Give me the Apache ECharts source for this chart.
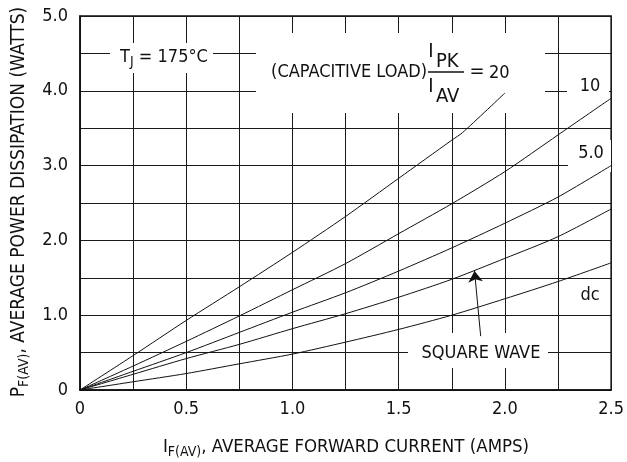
<!DOCTYPE html>
<html>
<head>
<meta charset="utf-8">
<script src="https://cdn.jsdelivr.net/npm/echarts@6/dist/echarts.min.js"></script>
<style>
  html, body { margin: 0; padding: 0; background: #fff; }
  #chart { width: 627px; height: 462px; }
</style>
</head>
<body>
<div id="chart"></div>
<script>
var FONT = '"Liberation Sans Narrow", "DejaVu Sans Condensed", "Liberation Sans", sans-serif';

// average forward current (A)
var current = [0, 0.25, 0.5, 0.75, 1.0, 1.25, 1.5, 1.75, 2.0, 2.25, 2.5];
var current20 = [0, 0.25, 0.5, 0.75, 1.0, 1.25, 1.5, 1.75, 1.8, 2.0];

// average power dissipation (W)
var ratio20 = [0, 0.46, 0.93, 1.38, 1.84, 2.32, 2.83, 3.34, 3.44, 3.97];
var ratio10 = [0, 0.32, 0.65, 0.99, 1.34, 1.69, 2.09, 2.49, 2.92, 3.41, 3.90];
var ratio5 = [0, 0.25, 0.50, 0.77, 1.04, 1.30, 1.59, 1.90, 2.23, 2.58, 3.00];
var squareWave = [0, 0.21, 0.42, 0.61, 0.82, 1.02, 1.24, 1.48, 1.76, 2.05, 2.42];
var dc = [0, 0.11, 0.22, 0.35, 0.48, 0.64, 0.81, 1.00, 1.22, 1.45, 1.70];

// arrow from the SQUARE WAVE label up to its curve
var arrowFrom = [1.886, 0.72];
var arrowTo = [1.857, 1.59];

var xTickLabels = ['0', '0.5', '1.0', '1.5', '2.0', '2.5'];
var yTickLabels = ['0', '1.0', '2.0', '3.0', '4.0', '5.0'];

function pairs( xs, ys ) {
  return xs.map( function( x, i ) { return [ x, ys[ i ] ]; } );
}

function curve( name, data, extra ) {
  var s = {
    name: name,
    type: 'line',
    data: data,
    smooth: 0.25,
    showSymbol: false,
    symbol: 'none',
    z: 5,
    lineStyle: { color: '#111', width: 1 }
  };
  if( extra ) { for( var k in extra ) s[ k ] = extra[ k ]; }
  return s;
}

function txt( text, x, y, size, align, rich ) {
  return {
    type: 'text', x: x, y: y, z: 10,
    style: {
      text: text, fill: '#111', fontFamily: FONT, fontSize: size || 18,
      textAlign: align || 'center', textVerticalAlign: 'middle',
      rich: rich || {}
    }
  };
}

function box( x, y, w, h ) {
  return { type: 'rect', z: 1, shape: { x: x, y: y, width: w, height: h }, style: { fill: '#fff' } };
}

var subRich = { s: { fontFamily: FONT, fontSize: 14, fill: '#111', padding: [ 10, 0, 0, 0 ] } };

var chart = echarts.init( document.getElementById( 'chart' ) );

var gridLine = { show: true, lineStyle: { color: '#1a1a1a', width: 1 } };

chart.setOption( {
  animation: false,
  grid: { left: 80, right: 14, top: 16, bottom: 72, show: true, borderColor: '#111', borderWidth: 1.5 },
  xAxis: {
    type: 'value', min: 0, max: 2.5, interval: 0.25,
    axisLine: { show: true, lineStyle: { color: '#111', width: 1.5 } },
    axisTick: { show: false },
    splitLine: gridLine,
    axisLabel: {
      margin: 10, color: '#111', fontFamily: FONT, fontSize: 18,
      formatter: function( v ) {
        var k = Math.round( v * 4 );
        return k % 2 === 0 ? xTickLabels[ k / 2 ] : '';
      }
    }
  },
  yAxis: {
    type: 'value', min: 0, max: 5, interval: 0.5,
    axisLine: { show: true, lineStyle: { color: '#111', width: 1.5 } },
    axisTick: { show: false },
    splitLine: gridLine,
    axisLabel: {
      margin: 12, color: '#111', fontFamily: FONT, fontSize: 18,
      formatter: function( v ) {
        var k = Math.round( v * 2 );
        return k % 2 === 0 ? yTickLabels[ k / 2 ] : '';
      }
    }
  },
  series: [
    curve( '20', pairs( current20, ratio20 ) ),
    curve( '10', pairs( current, ratio10 ) ),
    curve( '5.0', pairs( current, ratio5 ) ),
    curve( 'SQUARE WAVE', pairs( current, squareWave ), {
      markLine: {
        silent: true, z: 6,
        symbol: [ 'none', 'arrow' ], symbolSize: 11,
        label: { show: false },
        lineStyle: { color: '#111', width: 1, type: 'solid' },
        data: [ [ { coord: arrowFrom }, { coord: arrowTo } ] ]
      }
    } ),
    curve( 'dc', pairs( current, dc ) )
  ],
  graphic: [
    box( 110, 43, 103, 30 ),
    box( 256, 33, 289, 80 ),
    box( 567, 75, 42, 24 ),
    box( 568, 140, 43, 32 ),
    box( 408, 333, 140, 35 ),

    txt( 'T{s|J} = 175°C', 164, 57, 18, 'center', subRich ),
    txt( '(CAPACITIVE LOAD)', 427, 72, 18, 'right' ),
    { type: 'line', z: 10, shape: { x1: 428, y1: 72, x2: 464, y2: 72 }, style: { stroke: '#111', lineWidth: 1.3 } },
    txt( 'I', 431, 52, 20, 'center' ),
    txt( 'PK', 436, 62, 20, 'left' ),
    txt( 'I', 431, 87, 20, 'center' ),
    txt( 'AV', 436, 97, 20, 'left' ),
    txt( '=', 477, 72, 20, 'center' ),
    txt( '20', 489, 73, 18, 'left' ),
    txt( '10', 590, 86, 18, 'center' ),
    txt( '5.0', 591, 153, 18, 'center' ),
    txt( 'dc', 590, 295, 18, 'center' ),
    txt( 'SQUARE WAVE', 481, 353, 18, 'center' ),

    txt( 'I{s|F(AV)}, AVERAGE FORWARD CURRENT (AMPS)', 346, 447, 18.5, 'center', subRich ),
    {
      type: 'text', x: 19, y: 202, rotation: Math.PI / 2, z: 10,
      style: {
        text: 'P{s|F(AV)}, AVERAGE POWER DISSIPATION (WATTS)', fill: '#111',
        fontFamily: FONT, fontSize: 19, textAlign: 'center', textVerticalAlign: 'middle',
        rich: subRich
      }
    }
  ]
} );
</script>
</body>
</html>
